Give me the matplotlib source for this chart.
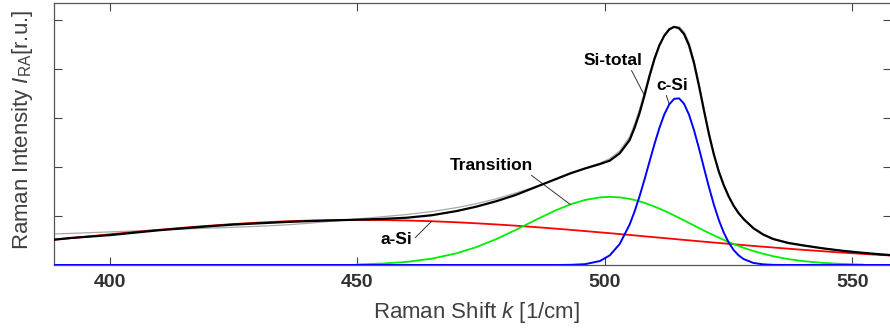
import numpy as np
import matplotlib
matplotlib.use("Agg")
import matplotlib.pyplot as plt

plt.rcParams['font.family'] = ['Liberation Sans', 'DejaVu Sans']
plt.rcParams['mathtext.fontset'] = 'custom'
plt.rcParams['mathtext.rm'] = 'Liberation Sans'
plt.rcParams['mathtext.it'] = 'Liberation Sans:italic'

# Raman shift grid [1/cm]
shift = [388, 392, 396, 400, 405, 410, 415, 420, 425, 430, 435, 440, 445,
         450, 455, 460, 465, 470, 474, 478, 482, 486, 490, 493, 496, 499,
         501, 503, 505, 506, 507, 508, 509, 510, 511, 512, 513, 514, 515,
         516, 517, 518, 519, 520, 521, 522, 523, 524, 525, 526, 527, 528,
         530, 532, 534, 537, 540, 544, 548, 552, 556, 558]

# measured spectrum (thin grey)
measured = [0.63, 0.645, 0.66, 0.675, 0.695, 0.715, 0.735, 0.752, 0.77, 0.79, 0.815, 0.85, 0.895,
            0.94, 0.985, 1.03, 1.09, 1.17, 1.25, 1.35, 1.47, 1.60, 1.74, 1.86, 1.98, 2.08,
            2.17, 2.33, 2.62, 2.88, 3.18, 3.53, 3.90, 4.23, 4.49, 4.67, 4.79, 4.86, 4.86,
            4.76, 4.54, 4.18, 3.71, 3.20, 2.71, 2.28, 1.93, 1.65, 1.42, 1.22, 1.07, 0.95,
            0.76, 0.63, 0.54, 0.46, 0.41, 0.345, 0.29, 0.25, 0.215, 0.20]

# fitted total
si_total = [0.51, 0.55, 0.58, 0.61, 0.66, 0.71, 0.75, 0.79, 0.825, 0.85, 0.875, 0.895, 0.91,
            0.925, 0.94, 0.965, 1.015, 1.10, 1.19, 1.30, 1.43, 1.59, 1.75, 1.87, 1.97, 2.06,
            2.13, 2.28, 2.55, 2.80, 3.10, 3.46, 3.85, 4.20, 4.48, 4.68, 4.81, 4.86, 4.83,
            4.71, 4.48, 4.12, 3.66, 3.16, 2.68, 2.26, 1.91, 1.63, 1.40, 1.21, 1.06, 0.94,
            0.75, 0.62, 0.53, 0.45, 0.40, 0.34, 0.29, 0.25, 0.215, 0.20]

# amorphous component
a_si = [0.509, 0.548, 0.587, 0.626, 0.674, 0.719, 0.762, 0.801, 0.836, 0.865, 0.889, 0.906, 0.916,
        0.920, 0.917, 0.908, 0.893, 0.872, 0.851, 0.828, 0.802, 0.773, 0.742, 0.718, 0.692, 0.666,
        0.649, 0.631, 0.613, 0.604, 0.595, 0.585, 0.576, 0.567, 0.558, 0.549, 0.540, 0.531, 0.521,
        0.512, 0.503, 0.494, 0.485, 0.476, 0.467, 0.458, 0.450, 0.441, 0.432, 0.423, 0.415, 0.406,
        0.389, 0.373, 0.357, 0.333, 0.310, 0.281, 0.253, 0.227, 0.203, 0.192]

# transition component, only given between 450 and 552
transition = [0.012, 0.029, 0.063, 0.129, 0.238, 0.364, 0.526, 0.716, 0.919, 1.113, 1.236, 1.328, 1.380,
              1.390, 1.380, 1.349, 1.326, 1.299, 1.267, 1.232, 1.193, 1.151, 1.107, 1.060, 1.011, 0.961,
              0.910, 0.858, 0.806, 0.755, 0.704, 0.654, 0.606, 0.559, 0.513, 0.470, 0.428, 0.389, 0.352,
              0.285, 0.228, 0.179, 0.121, 0.079, 0.043, 0.022, 0.010]

# crystalline component
c_si = [0, 0, 0, 0, 0, 0, 0, 0, 0, 0, 0, 0, 0,
        0, 0, 0, 0, 0, 0, 0, 0, 0, 0, 0.003, 0.017, 0.081,
        0.198, 0.430, 0.826, 1.093, 1.402, 1.745, 2.105, 2.462, 2.793, 3.073, 3.278, 3.391, 3.400,
        3.289, 3.065, 2.753, 2.383, 1.987, 1.597, 1.237, 0.923, 0.664, 0.460, 0.307, 0.198, 0.123,
        0.042, 0.013, 0.003, 0, 0, 0, 0, 0, 0, 0]

shift = np.array(shift)
trans_mask = (shift >= 450) & (shift <= 552)

fig = plt.figure(figsize=(8.9, 3.31), dpi=100)
ax = fig.add_axes([0.0607, 0.1994, 0.9404, 0.7906])

ax.plot(shift, measured, color='#a8a8a8', lw=0.9, zorder=2)
ax.plot(shift, a_si, color='#ff0000', lw=1.3, zorder=3)
ax.plot(shift[trans_mask], transition, color='#00ee00', lw=1.3, zorder=3)
ax.plot(shift, c_si, color='#0000ff', lw=1.4, zorder=4)
ax.plot(shift, si_total, color='black', lw=1.6, zorder=5)

ax.set_xlim(388.7, 557.8)
ax.set_ylim(0, 5.34)
ax.set_xticks([400, 450, 500, 550])
ax.set_yticks([1, 2, 3, 4, 5])
ax.set_yticklabels([])
ax.tick_params(direction='in', length=5.5, width=0.8, color='#444444',
               top=True, right=True, pad=6.5)
ax.tick_params(axis='x', labelsize=14, labelcolor='#303030')
for lab in ax.get_xticklabels():
    lab.set_fontweight('bold')
for sp in ax.spines.values():
    sp.set_color('#555555')
    sp.set_linewidth(0.9)

ax.set_xlabel('Raman Shift $\\mathit{k}$ [1/cm]', fontsize=16, color='#404040')
ax.xaxis.set_label_coords(0.505, -0.183)
ax.xaxis.label.set_va('center')
ax.set_ylabel('Raman Intensity $\\mathit{I}_{\\mathrm{RA}}$[r.u.]', fontsize=16, color='#404040')
ax.yaxis.set_label_coords(-0.038, 0.515)
ax.yaxis.label.set_va('center')

line = dict(arrowstyle='-', lw=0.7, color='#333333', shrinkA=0, shrinkB=0)
ax.annotate('Si-total', xy=(shift[31], si_total[31]), xytext=(501.6, 4.18),
            ha='center', va='center', fontsize=12.5, fontweight='bold',
            arrowprops=dict(line, relpos=(0.78, 0.1)))
ax.annotate('c-Si', xy=(shift[36], c_si[36]), xytext=(513.7, 3.67),
            ha='center', va='center', fontsize=12.5, fontweight='bold',
            arrowprops=dict(line, relpos=(0.27, 0.0)))
ax.annotate('Transition', xy=(shift[23], transition[10]), xytext=(477.0, 2.04),
            ha='center', va='center', fontsize=12.5, fontweight='bold',
            arrowprops=dict(line, relpos=(0.94, 0.0)))
ax.annotate('a-Si', xy=(shift[16], a_si[16]), xytext=(457.9, 0.53),
            ha='center', va='center', fontsize=12.5, fontweight='bold',
            arrowprops=dict(line, relpos=(1.0, 0.4)))

fig.savefig('out.png', dpi=100)
